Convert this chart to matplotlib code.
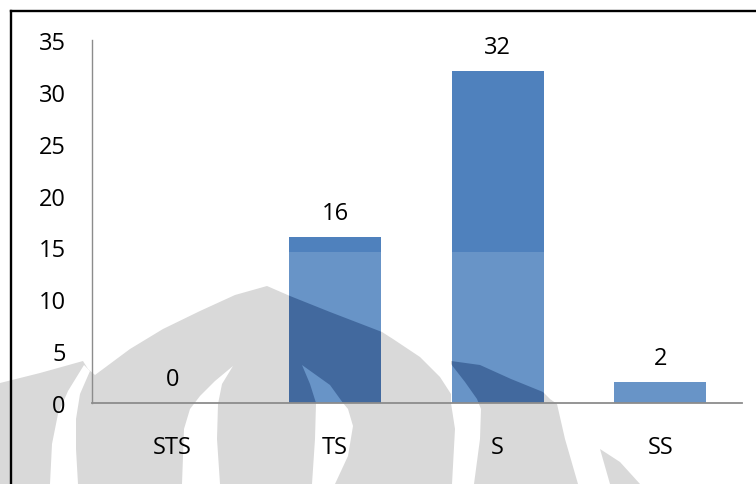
import matplotlib
matplotlib.use("Agg")
import matplotlib.pyplot as plt
from matplotlib.patches import Polygon, Rectangle
from matplotlib.lines import Line2D

# ---- data -------------------------------------------------------------
categories = ["STS", "TS", "S", "SS"]
counts = [0, 16, 32, 2]
y_ticks = [0, 5, 10, 15, 20, 25, 30, 35]

# ---- style ------------------------------------------------------------
W, H = 756, 485
BLUE = "#4F81BD"
BLUE_LIGHT = "#6894C7"
BLUE_DARK = "#42699E"
GREY = "#D9D9D9"
AXIS = "#8C8C8C"
FONT = "Open Sans"
FS = 17

plt.rcParams["font.family"] = [FONT, "DejaVu Sans"]

fig = plt.figure(figsize=(W / 100, H / 100), dpi=100)
fig.patch.set_facecolor("white")


def px(pts):
    """Pixel coordinates (origin top-left) -> figure fraction."""
    return [(x / W, 1 - y / H) for x, y in pts]


# ---- background emblem (faint grey logo behind the plot) -----------------
emblem = [(0, 384), (40, 374), (83, 362), (88, 370), (95, 376), (130, 350),
          (163, 330), (200, 312), (235, 296), (267, 287), (290, 297),
          (330, 313), (382, 333), (393, 340), (420, 358), (440, 378),
          (451, 395), (451, 362), (480, 366), (511, 380), (543, 393),
          (550, 400), (557, 405), (565, 440), (578, 485), (0, 485)]
emblem_small = [(600, 450), (620, 463), (640, 485), (610, 485)]
holes = [
    [(50, 485), (52, 445), (58, 415), (68, 392), (84, 366), (90, 372),
     (80, 395), (76, 420), (76, 450), (78, 485)],
    [(182, 485), (184, 430), (190, 410), (200, 397), (215, 382), (233, 367),
     (222, 385), (218, 405), (217, 440), (220, 485)],
    [(302, 366), (310, 385), (316, 404), (315, 440), (312, 485), (335, 485),
     (348, 457), (353, 427), (348, 410), (343, 404), (330, 386)],
    [(451, 365), (451, 404), (455, 430), (452, 485), (474, 485), (480, 440),
     (481, 410), (477, 400), (465, 383)],
]

fig.add_artist(Polygon(px(emblem), closed=True, transform=fig.transFigure,
                       facecolor=GREY, edgecolor="none", zorder=-2))
fig.add_artist(Polygon(px(emblem_small), closed=True, transform=fig.transFigure,
                       facecolor=GREY, edgecolor="none", zorder=-2))
for h in holes:
    fig.add_artist(Polygon(px(h), closed=True, transform=fig.transFigure,
                           facecolor="white", edgecolor="none", zorder=-1.5))

# ---- axes -------------------------------------------------------------
left, right = 91.5, 741.5
top, bottom = 41, 404
ax = fig.add_axes([left / W, 1 - bottom / H, (right - left) / W, (bottom - top) / H])
ax.set_facecolor("none")

x = list(range(len(categories)))
bars = ax.bar(x, counts, width=0.567, color=BLUE, zorder=2)


def add_clipped(artist, bar):
    ax.add_artist(artist)
    artist.set_clip_path(bar)


# emblem tint on top of the bars
for b in bars:
    if b.get_height() <= 0:
        continue
    haze = Rectangle((0, 0), 1, 1 - 253 / H, transform=fig.transFigure,
                     facecolor=BLUE_LIGHT, edgecolor="none", zorder=2.1)
    add_clipped(haze, b)
    for shape in (emblem, emblem_small):
        dark = Polygon(px(shape), closed=True, transform=fig.transFigure,
                       facecolor=BLUE_DARK, edgecolor="none", zorder=2.2)
        add_clipped(dark, b)
    for h in holes:
        lt = Polygon(px(h), closed=True, transform=fig.transFigure,
                     facecolor=BLUE_LIGHT, edgecolor="none", zorder=2.3)
        add_clipped(lt, b)

ax.set_xlim(-0.5, len(categories) - 0.5)
ax.set_ylim(0, 35)
ax.set_yticks(y_ticks)
ax.set_yticklabels([str(t) for t in y_ticks], fontsize=FS)
ax.set_xticks(x)
ax.set_xticklabels(categories, fontsize=FS)
ax.tick_params(axis="y", length=0, pad=18.5)
ax.tick_params(axis="x", length=0, pad=23)

for s in ("top", "right"):
    ax.spines[s].set_visible(False)
for s in ("left", "bottom"):
    ax.spines[s].set_color(AXIS)
    ax.spines[s].set_zorder(3)
ax.spines["left"].set_linewidth(1.0)
ax.spines["bottom"].set_linewidth(1.3)

for xi, v in zip(x, counts):
    ax.annotate(str(v), (xi, v), xytext=(0, 13), textcoords="offset points",
                ha="center", va="baseline", fontsize=FS, zorder=4)

# outer frame (left and top edges)
fig.add_artist(Line2D([11 / W, 11 / W], [0, 1 - 12 / H], transform=fig.transFigure,
                      color="black", linewidth=1.7, zorder=5))
fig.add_artist(Line2D([11 / W, 1], [1 - 12 / H, 1 - 12 / H], transform=fig.transFigure,
                      color="black", linewidth=1.7, zorder=5))

fig.savefig("out.png", dpi=100)
